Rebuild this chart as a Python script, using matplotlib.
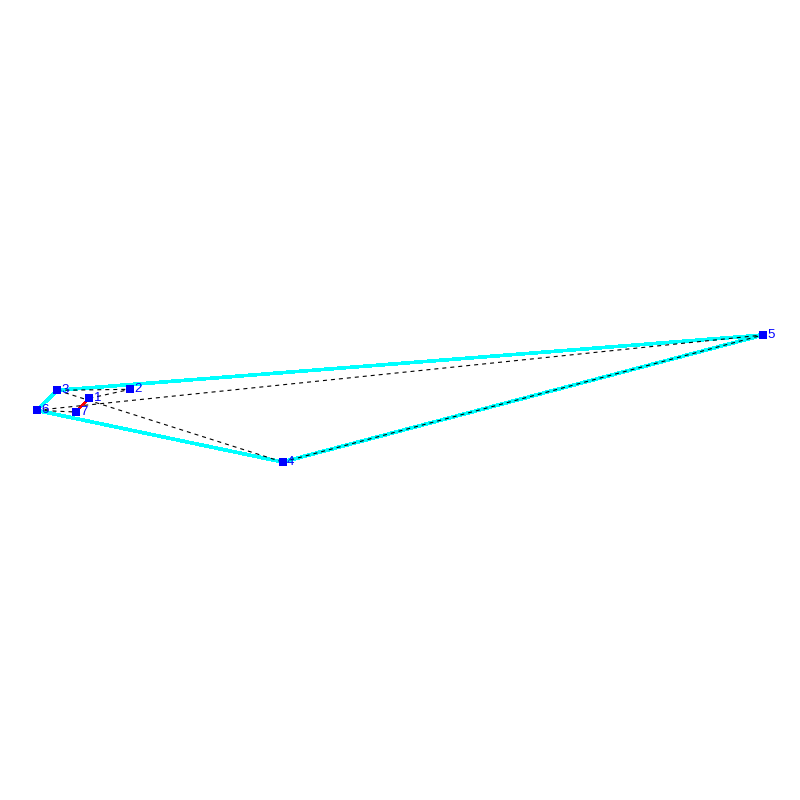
import matplotlib
matplotlib.use('Agg')
import matplotlib.pyplot as plt

plt.rcParams['font.family'] = ['Liberation Sans', 'DejaVu Sans']

# node positions
node_ids = [1, 2, 3, 4, 5, 6, 7]
node_x = [89.3, 130.3, 57.3, 282.5, 763.0, 36.5, 75.5]
node_y = [398.3, 389.3, 390.3, 462.0, 335.0, 410.3, 412.0]

hull_edges = [(3, 5), (5, 4), (4, 6), (6, 3)]
red_edges = [(1, 7)]
dashed_edges = [(3, 2), (3, 4), (4, 5), (6, 5), (6, 7), (1, 2)]


def draw_edges(ax, edges, aliased=True, **style):
    for a, b in edges:
        i, j = node_ids.index(a), node_ids.index(b)
        ax.plot([node_x[i], node_x[j]], [node_y[i], node_y[j]], antialiased=not aliased, **style)


fig = plt.figure(figsize=(8, 8), dpi=100)
ax = fig.add_axes([0, 0, 1, 1])
ax.set_xlim(0, 800)
ax.set_ylim(800, 0)
ax.axis('off')

draw_edges(ax, hull_edges, color='#00ffff', lw=1.9, zorder=1, solid_capstyle='butt')
draw_edges(ax, red_edges, color='#ff0000', lw=1.3, zorder=2)
draw_edges(ax, dashed_edges, aliased=False, color='black', lw=0.8, dashes=(3.6, 3.6), zorder=3)

ax.scatter(node_x, node_y, marker='s', s=33, color='#0000ff', linewidths=0, zorder=4)
for n, x, y in zip(node_ids, node_x, node_y):
    ax.text(x + 4.5, y, str(n), color='#0000ff', fontsize=9.5, ha='left', va='center', zorder=5)

fig.savefig('out.png', dpi=100)
